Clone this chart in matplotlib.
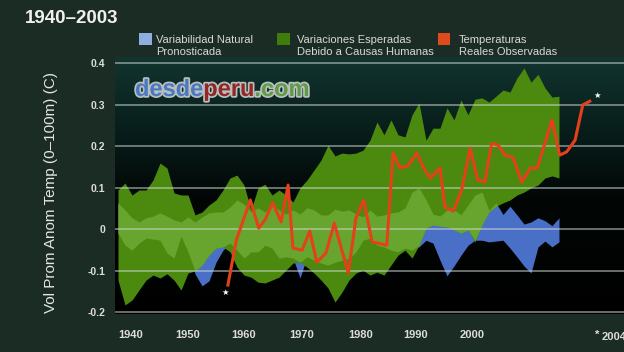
import numpy as np
import matplotlib.pyplot as plt
import matplotlib.patheffects as pe
from matplotlib.colors import LinearSegmentedColormap
from matplotlib.patches import Rectangle

# --- data ---
years = np.arange(1940, 2004)

# band of changes expected from human causes (dark green)
human_hi = np.array([
    0.094, 0.111, 0.082, 0.094, 0.094, 0.118, 0.159, 0.147, 0.087, 0.082,
    0.082, 0.034, 0.041, 0.058, 0.070, 0.094, 0.123, 0.130, 0.106, 0.046,
    0.099, 0.108, 0.082, 0.094, 0.082, 0.065, 0.099, 0.118, 0.142, 0.166,
    0.202, 0.176, 0.183, 0.181, 0.183, 0.190, 0.214, 0.258, 0.227, 0.263,
    0.227, 0.222, 0.275, 0.304, 0.214, 0.243, 0.243, 0.292, 0.263, 0.311,
    0.275, 0.313, 0.316, 0.306, 0.320, 0.335, 0.330, 0.364, 0.388, 0.354,
    0.373, 0.340, 0.318, 0.320])
human_lo = np.array([
    -0.123, -0.183, -0.171, -0.147, -0.123, -0.111, -0.118, -0.108, -0.123, -0.147,
    -0.106, -0.101, -0.087, -0.063, -0.046, -0.043, -0.055, -0.092, -0.111, -0.116,
    -0.128, -0.130, -0.123, -0.116, -0.099, -0.082, -0.080, -0.092, -0.106, -0.123,
    -0.142, -0.176, -0.152, -0.123, -0.106, -0.099, -0.111, -0.104, -0.111, -0.087,
    -0.063, -0.051, -0.070, -0.039, 0.002, 0.010, 0.007, 0.005, -0.002, -0.010,
    -0.002, -0.031, 0.010, 0.041, 0.055, 0.063, 0.070, 0.082, 0.089, 0.099,
    0.106, 0.123, 0.128, 0.123])

# band of predicted natural variability (blue)
natural_hi = np.array([
    0.063, 0.046, 0.027, 0.017, 0.027, 0.031, 0.039, 0.031, 0.022, 0.017,
    0.029, 0.017, 0.029, 0.039, 0.041, 0.041, 0.053, 0.070, 0.060, 0.041,
    0.051, 0.041, 0.058, 0.046, 0.036, 0.046, 0.036, 0.051, 0.046, 0.034,
    0.034, 0.048, 0.043, 0.046, 0.036, 0.029, 0.046, 0.031, 0.034, 0.039,
    0.041, 0.051, 0.089, 0.099, 0.070, 0.036, 0.031, 0.046, 0.046, 0.034,
    0.058, 0.082, 0.089, 0.045, 0.063, 0.035, 0.055, 0.034, 0.012, 0.017,
    0.027, 0.020, 0.008, 0.027])
natural_lo = np.array([
    -0.010, -0.039, -0.051, -0.034, -0.022, -0.024, -0.027, -0.058, -0.070, -0.017,
    -0.055, -0.108, -0.137, -0.125, -0.080, -0.051, -0.034, -0.051, -0.070, -0.055,
    -0.055, -0.039, -0.046, -0.070, -0.067, -0.070, -0.118, -0.067, -0.075, -0.082,
    -0.087, -0.080, -0.075, -0.070, -0.055, -0.027, -0.022, -0.039, -0.043, -0.051,
    -0.055, -0.046, -0.051, -0.043, -0.027, -0.034, -0.075, -0.113, -0.089, -0.063,
    -0.039, -0.027, -0.027, -0.031, -0.029, -0.027, -0.046, -0.067, -0.089, -0.106,
    -0.043, -0.029, -0.043, -0.031])

# observed temperatures (red line)
obs_years = [1955.7, 1956.9, 1958.9, 1960.1, 1961.0, 1962.1, 1963.3, 1964.3, 1965.0,
             1966.3, 1967.4, 1968.4, 1969.7, 1970.9, 1972.9, 1974.0, 1975.1, 1976.3,
             1978.4, 1979.3, 1980.3, 1981.4, 1982.7, 1983.6, 1984.6, 1986.0, 1986.7,
             1987.9, 1989.1, 1990.3, 1991.4, 1992.4, 1993.4, 1994.3, 1995.3, 1996.4,
             1997.7, 1998.9, 1999.9, 2002.0, 2003.1, 2004.1, 2005.3, 2006.4, 2007.4]
obs_temp = [-0.135, -0.027, 0.070, 0.002, 0.022, 0.063, 0.017, 0.106, -0.046,
            -0.051, -0.005, -0.080, -0.058, 0.014, -0.106, 0.027, 0.070, -0.031,
            -0.039, 0.183, 0.147, 0.152, 0.183, 0.149, 0.123, 0.147, 0.053,
            0.043, 0.094, 0.195, 0.118, 0.113, 0.207, 0.202, 0.178, 0.173,
            0.113, 0.147, 0.147, 0.263, 0.178, 0.186, 0.214, 0.299, 0.308]

ytick_vals = [-0.2, -0.1, 0, 0.1, 0.2, 0.3, 0.4]
ytick_labels = ['-0.2', '-0.1', '0', '0.1', '0.2', '0.3', '0.4']
xtick_labels = ['1940', '1950', '1960', '1970', '1980', '1990', '2000']
# the original's year labels do not sit on the data years, so keep their drawn spots
xtick_pos = [1941.8, 1949.9, 1958.0, 1966.2, 1974.7, 1982.5, 1990.6]

legend_labels = ['Variabilidad Natural\nPronosticada',
                 'Variaciones Esperadas\nDebido a Causas Humanas',
                 'Temperaturas\nReales Observadas']
legend_colors = ['#8eaee0', '#3f7c0e', '#e04a1f']

# --- styling ---
W, H = 624, 352
BG = '#1b2c25'
SANS = ['Liberation Sans', 'DejaVu Sans']
NARROW = ['Liberation Sans Narrow', 'Liberation Sans', 'DejaVu Sans']
BLUE, GREEN, LIGHT_GREEN, RED = '#4a6fc6', '#4b8a0e', '#68a52e', '#e5401b'


def fx(x):
    return x / W


def fy(y):
    return 1 - y / H


fig = plt.figure(figsize=(W / 100, H / 100), dpi=100, facecolor=BG)
ax = fig.add_axes([fx(115), fy(314.1), 509 / W, (314.1 - 56.8) / H])

# dark teal -> black background of the plot area
cmap = LinearSegmentedColormap.from_list(
    'bg', [(0, '#000000'), (0.45, '#020706'), (0.7, '#081d1a'), (1, '#12352f')])
grad = np.linspace(0, 1, 256).reshape(-1, 1)
ax.imshow(grad, cmap=cmap, origin='lower', extent=[0, 1, 0, 1],
          transform=ax.transAxes, aspect='auto', zorder=0)

# bands: natural, human, and their overlap in lighter green
ax.fill_between(years, natural_lo, natural_hi, color=BLUE, lw=0, zorder=1)
ax.fill_between(years, human_lo, human_hi, color=GREEN, lw=0, zorder=2)
lo = np.maximum(human_lo, natural_lo)
hi = np.minimum(human_hi, natural_hi)
ax.fill_between(years, lo, hi, where=hi > lo, interpolate=True,
                color=LIGHT_GREEN, lw=0, zorder=2.5)

for v in ytick_vals:
    ax.axhline(v, color='#cdd6d2', lw=1.2, alpha=0.6, zorder=3)

ax.plot(obs_years, obs_temp, color=RED, lw=2.2, zorder=4)
ax.annotate('★', (obs_years[0], obs_temp[0]), xytext=(-2, -5.5),
            textcoords='offset points', color='white', fontsize=6,
            ha='center', va='center', family='DejaVu Sans', zorder=5)
ax.annotate('★', (obs_years[-1], obs_temp[-1]), xytext=(5, 3.8),
            textcoords='offset points', color='white', fontsize=6,
            ha='center', va='center', family='DejaVu Sans', zorder=5)

ax.set_xlim(1939.57, 2012.29)
ax.set_ylim(-0.205, 0.415)
for s in ax.spines.values():
    s.set_visible(False)
ax.set_yticks(ytick_vals, ytick_labels, family=NARROW, weight='bold')
ax.set_xticks(xtick_pos, xtick_labels, family=NARROW, weight='bold')
ax.tick_params(axis='y', length=0, pad=7, labelcolor='#dcdcdc', labelsize=7.5)
ax.tick_params(axis='x', length=0, pad=11.5, labelcolor='#dcdcdc', labelsize=8)

# "*2004" at the bottom right (cut by the edge, as in the original)
fig.text(fx(601.5), fy(340.5), '2004', fontsize=8, family=NARROW, weight='bold',
         color='#dcdcdc', va='baseline')
fig.text(fx(595), fy(337.5), '*', fontsize=8, family=NARROW, weight='bold',
         color='#dcdcdc', va='baseline')

# title and axis label
fig.text(fx(25), fy(22.7), '1940–2003', fontsize=13.5, color='#f0f0f0',
         va='baseline', family=SANS, weight='bold')
fig.text(fx(51), fy(192.5), 'Vol Prom Anom Temp (0–100m) (C)', rotation=90,
         ha='center', va='center', color='#e6e6e6', fontsize=11, family=SANS)

# legend (two-line labels; baseline refers to the second line)
for sq_x, txt_x, label, color in zip([139, 277, 438], [156, 297, 459],
                                     legend_labels, legend_colors):
    fig.patches.append(Rectangle((fx(sq_x), fy(45.3)), 12.5 / W, 12 / H,
                                 transform=fig.transFigure, facecolor=color,
                                 edgecolor='none'))
    fig.text(fx(txt_x), fy(55), label, fontsize=8, color='#d8d8d8',
             va='baseline', family=SANS, linespacing=1.2)

# watermark
renderer = fig.canvas.get_renderer()
x = 135
for word, color in [('desde', '#4a78c2'), ('peru', '#952626'), ('.com', '#5f9c48')]:
    t = fig.text(fx(x), fy(96), word, fontsize=17, weight='bold', color=color,
                 va='baseline', family=SANS, zorder=5,
                 path_effects=[pe.withStroke(linewidth=2.5, foreground='#b9bfbd')])
    x += t.get_window_extent(renderer).width

fig.savefig('out.png', dpi=100, facecolor=BG)
